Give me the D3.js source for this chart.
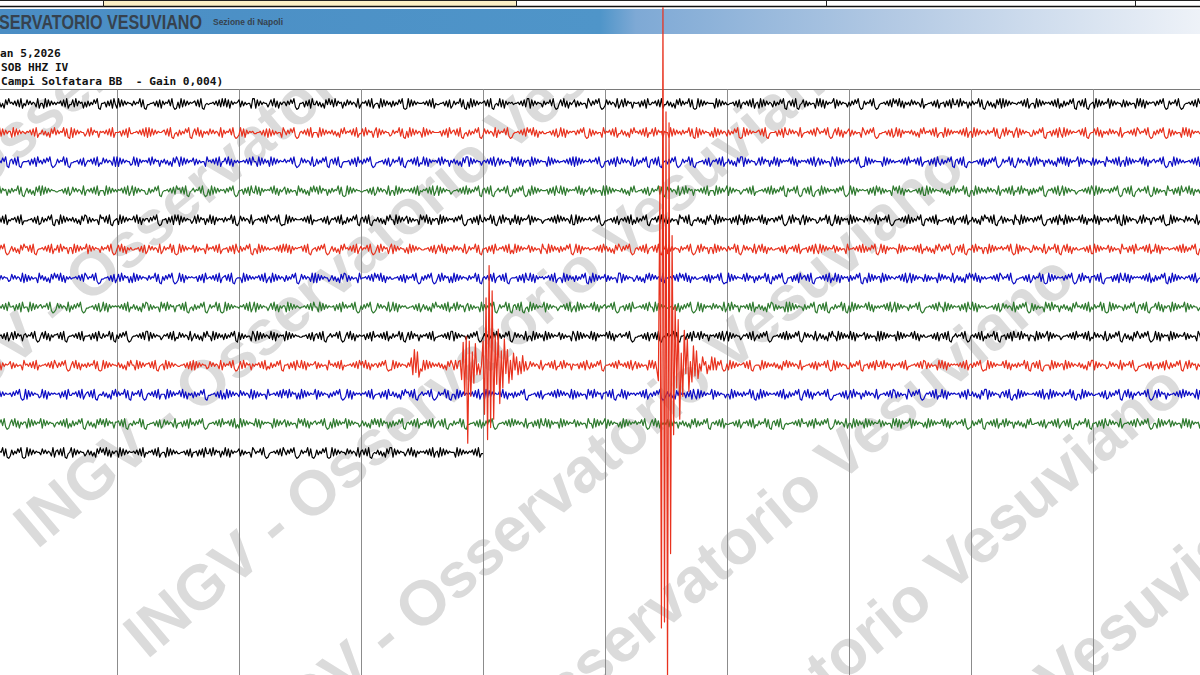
<!DOCTYPE html>
<html>
<head>
<meta charset="utf-8">
<script src="https://cdn.jsdelivr.net/npm/d3@7"></script>
<style>
  html, body { margin: 0; padding: 0; background: #fff; overflow: hidden; }
  svg { display: block; }
</style>
</head>
<body>
<div id="chart"></div>
<script>
// header texts
const bannerTitle = "SERVATORIO VESUVIANO";
const bannerSub = "Sezione di Napoli";
const headerLines = ["an 5,2026", "SOB HHZ IV", "Campi Solfatara BB  - Gain 0,004)"];
const watermarkText = "INGV - Osservatorio Vesuviano";

// minutes along each helicorder line, grid every minute
const minuteTicks = [1, 2, 3, 4, 5, 6, 7, 8, 9];
const traceColors = ["#000000", "#e8321e", "#0c0cc4", "#2f7a2f"];
const samplesPerMinute = 80;

// digits are counts around 4.5, 80 samples per minute
const trace00 = "47362518495647382915384746529155192837464657382914482937561627364859105562738194" +
  "19283746553746592810445563728174658392016192837465673829104545564738293928174656" +
  "82736455199183746552583927164663748592015562738194473625184948293756163847465291" +
  "46573829145519283746273648591019283746555647382915445563728137465928106192837465" +
  "67382910453928174656455647382991837465527465839201583927164682736455196374859201" +
  "38474652914829375616556273819446573829144736251849374659281019283746555519283746" +
  "44556372815647382915619283746527364859106738291045827364551939281746569183746552" +
  "63748592017465839201455647382958392716463847465291445563728155627381944829375616" +
  "37465928104736251849192837465546573829145519283746564738291527364859106738291045" +
  "61928374659183746552827364551939281746566374859201746583920145564738295839271646";
const trace01 = "55192837466192837465465738291447362518493746592810918374655248293756165647382915" +
  "55627381944556473829192837465567382910452736485910583927164638474652917465839201" +
  "39281746564455637281827364551963748592015647382915551928374647362518494657382914" +
  "48293756169183746552374659281061928374651928374655556273819467382910452736485910" +
  "38474652917465839201455647382958392716464455637281392817465663748592018273645519" +
  "46573829144736251849564738291548293756165519283746374659281091837465526192837465" +
  "27364859101928374655673829104555627381943847465291455647382974658392015839271646" +
  "82736455196374859201445563728139281746564736251849465738291455192837465647382915" +
  "61928374653746592810482937561691837465522736485910556273819419283746556738291045" +
  "58392716463847465291455647382974658392016374859201827364551939281746564455637281";
const trace02 = "27364859106738291045556273819463748592013746592810445563728146573829143847465291" +
  "91837465523928174656482937561647362518496192837465827364551956473829155839271646" +
  "45564738295519283746192837465574658392013847465291273648591067382910455562738194" +
  "63748592014455637281374659281046573829143928174656482937561647362518499183746552" +
  "56473829158273645519583927164661928374655519283746455647382919283746557465839201" +
  "55627381943847465291273648591067382910456374859201374659281044556372814657382914" +
  "47362518499183746552482937561639281746565839271646564738291582736455196192837465" +
  "74658392011928374655551928374645564738294657382914556273819427364859106738291045" +
  "44556372816374859201374659281038474652914829375616473625184939281746569183746552" +
  "82736455195647382915619283746558392716467465839201551928374645564738291928374655";
const trace03 = "48293756163746592810473625184919283746554455637281384746529156473829155519283746" +
  "46573829149183746552273648591045564738296738291045746583920161928374656374859201" +
  "55627381943928174656583927164682736455194736251849482937561637465928101928374655" +
  "44556372813847465291551928374656473829154657382914918374655245564738292736485910" +
  "67382910457465839201637485920161928374655562738194392817465658392716468273645519" +
  "19283746554736251849445563728137465928103847465291482937561656473829155519283746" +
  "91837465524657382914455647382927364859107465839201673829104561928374656374859201" +
  "39281746565562738194827364551958392716464455637281192837465547362518493746592810" +
  "55192837463847465291564738291548293756162736485910465738291491837465524556473829" +
  "61928374656374859201673829104574658392018273645519556273819458392716463928174656";
const trace04 = "56473829154657382914445563728127364859105519283746473625184982736455196738291045" +
  "61928374655839271646637485920155627381949183746552482937561639281746563746592810" +
  "38474652914556473829746583920119283746555647382915445563728146573829142736485910" +
  "67382910454736251849551928374682736455195839271646619283746563748592015562738194" +
  "37465928104829375616392817465691837465524556473829384746529119283746557465839201" +
  "44556372815647382915273648591046573829148273645519673829104547362518495519283746" +
  "55627381946192837465583927164663748592014829375616918374655237465928103928174656" +
  "19283746553847465291746583920145564738292736485910564738291544556372814657382914" +
  "47362518496738291045827364551955192837466374859201556273819461928374655839271646" +
  "39281746563746592810918374655248293756167465839201192837465538474652914556473829";
const trace05 = "63748592014736251849673829104556473829154829375616619283746591837465527465839201" +
  "58392716464455637281384746529137465928101928374655827364551946573829145562738194" +
  "27364859105519283746455647382939281746566738291045637485920147362518495647382915" +
  "74658392014829375616918374655261928374654455637281583927164638474652913746592810" +
  "55627381944657382914192837465582736455195519283746273648591039281746564556473829" +
  "47362518496374859201564738291567382910459183746552746583920148293756166192837465" +
  "37465928103847465291583927164644556372814657382914556273819419283746558273645519" +
  "45564738292736485910392817465655192837465647382915473625184963748592016738291045" +
  "48293756166192837465746583920191837465523847465291374659281058392716464455637281" +
  "19283746558273645519556273819446573829143928174656455647382927364859105519283746";
const trace06 = "91837465523847465291827364551947362518495839271646455647382974658392014455637281" +
  "48293756161928374655374659281063748592013928174656556273819456473829156738291045" +
  "55192837464657382914619283746527364859103847465291918374655247362518498273645519" +
  "45564738295839271646445563728174658392016374859201482937561619283746553746592810" +
  "56473829156738291045556273819439281746564657382914551928374627364859106192837465" +
  "82736455199183746552473625184938474652914556473829583927164644556372817465839201" +
  "19283746554829375616374659281063748592015562738194673829104556473829153928174656" +
  "27364859105519283746619283746546573829149183746552827364551938474652914736251849" +
  "58392716464556473829746583920144556372813746592810192837465563748592014829375616" +
  "67382910455562738194392817465656473829152736485910619283746546573829145519283746";
const trace07 = "45564738295562738194551928374674658392013847465291637485920144556372813928174656" +
  "56473829154736251849827364551948293756166738291045273648591037465928101928374655" +
  "46573829149183746552583927164661928374654556473829551928374655627381947465839201" +
  "63748592013847465291392817465644556372814736251849564738291548293756168273645519" +
  "27364859103746592810673829104519283746559183746552465738291461928374655839271646" +
  "74658392015562738194455647382955192837464455637281637485920139281746563847465291" +
  "48293756165647382915473625184982736455191928374655273648591067382910453746592810" +
  "61928374655839271646465738291491837465527465839201455647382955192837465562738194" +
  "39281746564455637281384746529163748592018273645519482937561647362518495647382915" +
  "37465928101928374655273648591067382910455839271646619283746591837465524657382914";
const trace08 = "44556372814829375616746583920158392716466738291045564738291555627381943746592810" +
  "63748592014556473829918374655246573829143847465291473625184955192837462736485910" +
  "82736455196192837465392817465619283746554455637281673829104574658392015839271646" +
  "55627381945647382915374659281048293756164657382914455647382991837465526374859201" +
  "47362518492736485910384746529155192837461928374655827364551961928374653928174656" +
  "58392716467465839201445563728167382910453746592810556273819448293756165647382915" +
  "91837465524657382914637485920145564738292736485910384746529147362518495519283746" +
  "39281746568273645519192837465561928374655839271646445563728167382910457465839201" +
  "56473829153746592810556273819448293756165519283746918374655245564738294657382914" +
  "38474652912736485910473625184963748592013928174656192837465582736455196192837465";
const trace09 = "39281746568273645519564738291545564738296374859201583927164637465928101928374655" +
  "47362518495519283746673829104561928374654455637281918374655238474652917465839201" +
  "48293756164657382914273648591055627381943928174656827364551956473829154556473829" +
  "58392716466374859201192837465537465928105519283746473625184961928374656738291045" +
  "74658392019183746552445563728138474652914657382914482937561655627381942736485910" +
  "45564738295647382915827364551939281746561928374655374659281058392716466374859201" +
  "61928374656738291045551928374647362518493847465291445563728174658392019183746552" +
  "27364859105562738194482937561646573829144556473829827364551939281746565647382915" +
  "63748592011928374655583927164637465928106738291045551928374661928374654736251849" +
  "91837465523847465291746583920144556372815562738194273648591048293756164657382914";
const trace10 = "19283746556374859201918374655239281746565562738194465738291467382910454736251849" +
  "37465928107465839201564738291555192837465839271646273648591044556372816192837465" +
  "38474652918273645519455647382948293756161928374655918374655263748592013928174656" +
  "46573829145562738194473625184967382910457465839201374659281055192837465647382915" +
  "61928374655839271646273648591044556372814556473829384746529182736455194829375616" +
  "67382910453928174656465738291463748592014736251849556273819419283746559183746552" +
  "55192837463746592810619283746556473829152736485910583927164674658392014455637281" +
  "48293756163847465291455647382982736455196374859201465738291439281746565562738194" +
  "47362518499183746552673829104519283746555647382915619283746537465928105519283746" +
  "44556372812736485910583927164674658392014829375616455647382938474652918273645519";
const trace11 = "74658392015839271646619283746591837465525647382915273648591047362518494829375616" +
  "67382910453746592810445563728138474652915562738194637485920145564738294657382914" +
  "19283746553928174656551928374682736455195839271646746583920161928374659183746552" +
  "47362518494829375616273648591056473829154657382914673829104537465928104455637281" +
  "63748592014556473829384746529155627381943928174656192837465582736455195519283746" +
  "91837465526192837465746583920158392716464829375616473625184927364859105647382915" +
  "44556372814657382914374659281067382910454556473829556273819463748592013847465291" +
  "55192837461928374655827364551939281746569183746552619283746558392716467465839201" +
  "27364859105647382915482937561647362518494455637281465738291467382910453746592810" +
  "55627381943847465291455647382963748592015519283746827364551939281746561928374655";
const trace12 = "37465928102736485910192837465538474652916738291045918374655247362518495839271646" +
  "61928374655647382915465738291455192837464455637281556273819448293756163928174656" +
  "82736455197465839201455647382963748592013746592810273648591019283746553847465291" +
  "67382910454736251849918374655258392716465647382915619283746555192837464657382914" +
  "44556372815562738194";
const traceLengths = [800, 800, 800, 800, 800, 800, 800, 800, 800, 800, 800, 800, 321];

// earthquake bursts on the red line (trace 9): first sample and counts
const burst1Start = 273, burst1 = [5, -8, 9, -3, 8, -6, 2, -5, 4];
const burst2Start = 305, burst2 = [6, -14, 20, -26, 24, -66, 18, -24, 8, -12, 14, -4, 6, -7];
const burst3Start = 320, burst3 = [18, -40, 55, -62, 80, -50, 58, -42, 30, -12, 26, -28, 9, -17, 20, -6,
  12, -15, 4, -9, 11, -3, 7, -8, 2, -5, 6, -2];
const burst4Start = 435, burst4 = [-15, 150, -220, 298, -215, 215, -270, 205, -160, 110, -60, 50, -20, 38,
  -45, 12, -28, 30, -8, 22, -26, 6, -17, 20, -4, 12, -14, 3, -9, 10, -2, 7, -8, 1, -5, 6, -2, 4, -3];

const traceStrings = [trace00, trace01, trace02, trace03, trace04, trace05, trace06,
  trace07, trace08, trace09, trace10, trace11, trace12];

// build sample arrays
const traces = traceStrings.map((s, i) => s.slice(0, traceLengths[i]).split("").map(c => +c - 4.5));
[[burst1Start, burst1], [burst2Start, burst2], [burst3Start, burst3], [burst4Start, burst4]]
  .forEach(([start, vals]) => vals.forEach((v, k) => { traces[9][start + k] += v; }));

const width = 1200, height = 675;
const svg = d3.select("#chart").append("svg")
  .attr("width", width)
  .attr("height", height)
  .attr("viewBox", `0 0 ${width} ${height}`);

// scales
const x = d3.scaleLinear().domain([0, 10]).range([-5, 1215]);
const y = d3.scalePoint().domain(d3.range(13)).range([104, 453]);
const amp = d3.scaleLinear().domain([-10, 10]).range([12, -12]);
const plotTop = 89;

// watermark, diagonal, under everything
const wm = svg.append("g").attr("class", "watermark");
d3.range(-2, 8).forEach(k => {
  wm.append("text")
    .attr("transform", `translate(${37 + 110 * k},${550 + 110 * k}) rotate(-40)`)
    .style("font-family", "'Liberation Sans', Arial, sans-serif")
    .style("font-weight", "bold")
    .style("font-size", "63px")
    .style("fill", "#dbdbdb")
    .text(watermarkText);
});

// header background covers the watermark
svg.append("rect").attr("x", 0).attr("y", 0).attr("width", width).attr("height", plotTop).attr("fill", "#fff");

// top strip with boxes
svg.append("rect").attr("x", 104).attr("y", 1).attr("width", 412).attr("height", 5).attr("fill", "#fbf0c6");
svg.append("line").attr("x1", 0).attr("x2", width).attr("y1", 0.5).attr("y2", 0.5).attr("stroke", "#222");
svg.append("line").attr("x1", 0).attr("x2", width).attr("y1", 6.5).attr("y2", 6.5).attr("stroke", "#111").attr("stroke-width", 1.5);
[103.5, 516.5, 826.5, 1135.5].forEach(px => {
  svg.append("line").attr("x1", px).attr("x2", px).attr("y1", 0).attr("y2", 7).attr("stroke", "#222");
});

// banner
const grad = svg.append("defs").append("linearGradient").attr("id", "banner").attr("x1", "0%").attr("x2", "100%");
[["0%", "#4a8dc4"], ["50%", "#4f95c9"], ["53%", "#7ea9d5"], ["75%", "#b4cae4"], ["100%", "#eef2f8"]]
  .forEach(([o, c]) => grad.append("stop").attr("offset", o).attr("stop-color", c));
svg.append("rect").attr("x", 0).attr("y", 9).attr("width", width).attr("height", 25).attr("fill", "url(#banner)");

svg.append("text")
  .attr("x", -1).attr("y", 28.5)
  .attr("textLength", 203).attr("lengthAdjust", "spacingAndGlyphs")
  .style("font-family", "'Liberation Sans Narrow', 'Liberation Sans', Arial, sans-serif")
  .style("font-weight", "bold").style("font-size", "20px").style("fill", "#36424e")
  .text(bannerTitle);
svg.append("text")
  .attr("x", 213).attr("y", 25)
  .attr("textLength", 70).attr("lengthAdjust", "spacingAndGlyphs")
  .style("font-family", "'Liberation Sans Narrow', 'Liberation Sans', Arial, sans-serif")
  .style("font-weight", "bold").style("font-size", "9px").style("fill", "#36424e")
  .text(bannerSub);

// station lines
headerLines.forEach((t, i) => {
  svg.append("text")
    .attr("x", i === 0 ? 0 : 1).attr("y", 57 + i * 14)
    .style("white-space", "pre")
    .style("font-family", "'DejaVu Sans Mono', 'Liberation Mono', monospace")
    .style("font-weight", "bold").style("font-size", "11.2px").style("fill", "#111")
    .text(t);
});

// separator and minute grid
svg.append("line").attr("x1", 0).attr("x2", width).attr("y1", plotTop + 0.5).attr("y2", plotTop + 0.5)
  .attr("stroke", "#7a7a7a");
svg.append("g").attr("class", "grid")
  .selectAll("line").data(minuteTicks).join("line")
  .attr("x1", d => Math.round(x(d)) + 0.5).attr("x2", d => Math.round(x(d)) + 0.5)
  .attr("y1", plotTop).attr("y2", height)
  .attr("stroke", "#8c8c8c").attr("stroke-width", 1);

// seismogram traces, red event line drawn last
const order = d3.range(13).filter(i => i !== 9).concat([9]);
const traceG = svg.append("g").attr("class", "traces");
order.forEach(i => {
  const line = d3.line()
    .x((d, k) => x(k / samplesPerMinute))
    .y(d => y(i) + amp(d));
  traceG.append("path")
    .datum(traces[i])
    .attr("d", line)
    .attr("fill", "none")
    .attr("stroke", traceColors[i % 4])
    .attr("stroke-width", 1.2)
    .attr("stroke-linejoin", "round");
});
</script>
</body>
</html>
